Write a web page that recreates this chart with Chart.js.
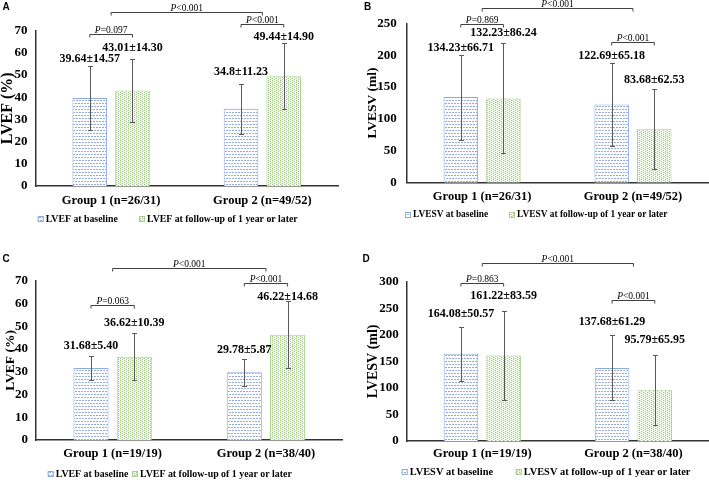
<!DOCTYPE html>
<html>
<head>
<meta charset="utf-8">
<script src="https://cdn.jsdelivr.net/npm/chart.js@4.4.1/dist/chart.umd.min.js"></script>
<style>
  html, body { margin: 0; padding: 0; background: #fff; }
  #fig { position: relative; width: 709px; height: 480px; overflow: hidden; }
  #fig canvas { position: absolute; }
</style>
</head>
<body>
<div id="fig">
  <canvas id="panelA" width="355" height="240" style="left:0;top:0"></canvas>
  <canvas id="panelB" width="354" height="240" style="left:355px;top:0"></canvas>
  <canvas id="panelC" width="355" height="240" style="left:0;top:240px"></canvas>
  <canvas id="panelD" width="354" height="240" style="left:355px;top:240px"></canvas>
</div>
<script>
// categories
const groupsAB = ['Group 1 (n=26/31)', 'Group 2 (n=49/52)'];
const groupsCD = ['Group 1 (n=19/19)', 'Group 2 (n=38/40)'];
const seriesEF = ['LVEF at baseline', 'LVEF at follow-up of 1 year or later'];
const seriesESV = ['LVESV at baseline', 'LVESV at follow-up of 1 year or later'];

// A - LVEF
const baseA = [39.64, 34.8];
const baseSdA = [14.57, 11.23];
const followA = [43.01, 49.44];
const followSdA = [14.30, 14.90];
const pA = ['P=0.097', 'P<0.001', 'P<0.001'];

// B - LVESV
const baseB = [134.23, 122.69];
const baseSdB = [66.71, 65.18];
const followB = [132.23, 83.68];
const followSdB = [86.24, 62.53];
const pB = ['P=0.869', 'P<0.001', 'P<0.001'];

// C - LVEF
const baseC = [31.68, 29.78];
const baseSdC = [5.40, 5.87];
const followC = [36.62, 46.22];
const followSdC = [10.39, 14.68];
const pC = ['P=0.063', 'P<0.001', 'P<0.001'];

// D - LVESV
const baseD = [164.08, 137.68];
const baseSdD = [50.57, 61.29];
const followD = [161.22, 95.79];
const followSdD = [83.59, 65.95];
const pD = ['P=0.863', 'P<0.001', 'P<0.001'];

// y ticks
const ticksEF = { max: 70, step: 10 };
const ticksESV_B = { max: 250, step: 50 };
const ticksESV_D = { max: 300, step: 50 };

const SERIF = '"Liberation Serif", "Times New Roman", serif';
Chart.defaults.font.family = SERIF;
Chart.defaults.color = '#000';

// fill patterns like the excel textures
function makePattern(kind) {
    const c = document.createElement('canvas');
    const g = c.getContext('2d');
    if (kind === 'blue') {
        c.width = 6; c.height = 6;
        g.fillStyle = '#fff'; g.fillRect(0, 0, 6, 6);
        g.fillStyle = '#93acdb';
        g.fillRect(0, 1, 2, 1); g.fillRect(3, 1, 2, 1);
        g.fillRect(1, 4, 2, 1); g.fillRect(4, 4, 2, 1);
    } else {
        c.width = 4; c.height = 4;
        g.fillStyle = '#fff'; g.fillRect(0, 0, 4, 4);
        g.fillStyle = '#94c676';
        g.fillRect(0, 0, 1, 1); g.fillRect(0, 2, 1, 1);
        g.fillRect(2, 1, 1, 1); g.fillRect(2, 3, 1, 1);
        g.fillStyle = '#d3e9c4';
        g.fillRect(1, 0, 1, 1); g.fillRect(3, 2, 1, 1);
    }
    return g.createPattern(c, 'repeat');
}
const patBlue = makePattern('blue');
const patGreen = makePattern('green');
const borderBlue = '#8eaadb';
const borderGreen = '#a9d18e';

// error bars, value labels, p-value brackets, legend
function decorPlugin(p, lay) {
    return {
        id: 'decor' + p.letter,
        afterDatasetsDraw(chart) {
            const ctx = chart.ctx;
            const ys = chart.scales.y;
            const xs = chart.scales.x;
            const metas = [chart.getDatasetMeta(0), chart.getDatasetMeta(1)];
            const sds = [p.baseSd, p.followSd];
            ctx.save();

            // error bars
            ctx.strokeStyle = '#595959';
            ctx.lineWidth = 1;
            sds.forEach((sdArr, d) => {
                sdArr.forEach((sd, i) => {
                    const m = chart.data.datasets[d].data[i];
                    const x = Math.round(metas[d].data[i].x) + 0.5;
                    const top = Math.round(ys.getPixelForValue(m + sd)) + 0.5;
                    const bot = Math.round(ys.getPixelForValue(m - sd)) + 0.5;
                    ctx.beginPath();
                    ctx.moveTo(x, top); ctx.lineTo(x, bot);
                    ctx.moveTo(x - 2.5, top); ctx.lineTo(x + 2.5, top);
                    ctx.moveTo(x - 2.5, bot); ctx.lineTo(x + 2.5, bot);
                    ctx.stroke();
                });
            });

            // mean ± sd labels
            ctx.fillStyle = '#000';
            ctx.font = 'bold ' + lay.valueSize + 'px ' + SERIF;
            ctx.textAlign = 'center';
            ctx.textBaseline = 'middle';
            sds.forEach((sdArr, d) => {
                sdArr.forEach((sd, i) => {
                    const m = chart.data.datasets[d].data[i];
                    const txt = String(m) + '\u00b1' + sd.toFixed(2);
                    ctx.fillText(txt, metas[d].data[i].x, ys.getPixelForValue(lay.labelAt[d][i]));
                });
            });

            // brackets
            const spans = [
                [metas[0].data[0].x, metas[1].data[0].x],
                [metas[0].data[1].x, metas[1].data[1].x],
                [xs.getPixelForValue(0), xs.getPixelForValue(1)]
            ];
            ctx.strokeStyle = '#404040';
            spans.forEach(([x0, x1], k) => {
                const yy = Math.round(ys.getPixelForValue(lay.bracketAt[k])) + 0.5;
                ctx.beginPath();
                ctx.moveTo(x0, yy + 3); ctx.lineTo(x0, yy);
                ctx.lineTo(x1, yy); ctx.lineTo(x1, yy + 3);
                ctx.stroke();
                // P label: italic P then the rest
                const label = p.pvals[k];
                const head = label.charAt(0), rest = label.slice(1);
                const fItal = 'italic ' + lay.pSize + 'px ' + SERIF;
                const fReg = lay.pSize + 'px ' + SERIF;
                ctx.font = fItal; const w0 = ctx.measureText(head).width;
                ctx.font = fReg; const w1 = ctx.measureText(rest).width;
                const sx = (x0 + x1) / 2 - (w0 + w1) / 2;
                ctx.textAlign = 'left';
                ctx.textBaseline = 'alphabetic';
                ctx.font = fItal; ctx.fillText(head, sx, yy - 2);
                ctx.font = fReg; ctx.fillText(rest, sx + w0, yy - 2);
            });

            // legend
            const fills = [patBlue, patGreen];
            const borders = [borderBlue, borderGreen];
            ctx.font = 'bold ' + lay.legendSize + 'px ' + SERIF;
            ctx.textBaseline = 'middle';
            ctx.textAlign = 'left';
            chart.data.datasets.forEach((ds, d) => {
                const bx = lay.legendX[d], by = lay.legendY;
                ctx.fillStyle = fills[d];
                ctx.fillRect(bx, by - 3, 6, 6);
                ctx.strokeStyle = borders[d];
                ctx.strokeRect(bx + 0.5, by - 2.5, 5, 5);
                ctx.fillStyle = '#000';
                ctx.fillText(ds.label, bx + 8, by);
            });

            // panel letter
            ctx.font = 'bold 10px "Liberation Sans", Arial, sans-serif';
            ctx.textAlign = 'center';
            ctx.fillText(p.letter, lay.letterXY[0], lay.letterXY[1]);
            ctx.restore();
        }
    };
}

function buildChart(p, lay) {
    const canvas = document.getElementById('panel' + p.letter);
    return new Chart(canvas, {
        type: 'bar',
        data: {
            labels: p.cats,
            datasets: [
                { label: p.names[0], data: p.base, backgroundColor: patBlue, borderColor: borderBlue, borderWidth: 1 },
                { label: p.names[1], data: p.follow, backgroundColor: patGreen, borderColor: borderGreen, borderWidth: 1 }
            ]
        },
        options: {
            responsive: false,
            animation: false,
            devicePixelRatio: 1,
            categoryPercentage: 0.565,
            barPercentage: 0.81,
            layout: { padding: { top: lay.top, right: lay.padRight, left: 0, bottom: 0 } },
            plugins: { legend: { display: false }, tooltip: { enabled: false } },
            scales: {
                x: {
                    grid: { display: false, drawTicks: false },
                    border: { color: '#333', width: 1.5 },
                    ticks: { font: { size: 12.5, weight: 'bold' }, padding: lay.catPad, color: '#000' },
                    afterFit: s => { s.height = lay.xAxisH; }
                },
                y: {
                    min: 0,
                    max: p.yTicks.max,
                    grid: { display: false, drawTicks: false },
                    border: { color: '#333', width: 1.5 },
                    ticks: { stepSize: p.yTicks.step, font: { size: 13, weight: 'bold' }, padding: lay.tickPad, color: '#000' },
                    title: {
                        display: true,
                        text: p.yTitle,
                        font: { size: lay.titleSize, weight: 'bold' },
                        padding: { top: lay.titlePad, bottom: 0 },
                        color: '#000'
                    },
                    afterFit: s => { s.width = lay.left; }
                }
            }
        },
        plugins: [decorPlugin(p, lay)]
    });
}

buildChart(
    { letter: 'A', cats: groupsAB, names: seriesEF, base: baseA, baseSd: baseSdA, follow: followA, followSd: followSdA, pvals: pA, yTicks: ticksEF, yTitle: 'LVEF (%)' },
    { left: 35.5, padRight: 17, top: 30.7, xAxisH: 54, titleSize: 16, titlePad: -2, tickPad: 8, catPad: 7.2,
      valueSize: 12, pSize: 9.5, legendY: 219, legendX: [37.7, 139], legendSize: 9.8, letterXY: [6, 7],
      labelAt: [[57.2, 51.4], [62.2, 67.2]], bracketAt: [68.4, 73, 78.6] }
);
buildChart(
    { letter: 'B', cats: groupsAB, names: seriesESV, base: baseB, baseSd: baseSdB, follow: followB, followSd: followSdB, pvals: pB, yTicks: ticksESV_B, yTitle: 'LVESV (ml)' },
    { left: 51.7, padRight: 0.6, top: 23.3, xAxisH: 57.3, titleSize: 13.5, titlePad: 9, tickPad: 10, catPad: 6.8,
      valueSize: 12, pSize: 9.5, legendY: 215, legendX: [50, 154], legendSize: 9.4, letterXY: [12.5, 7],
      labelAt: [[211.7, 198.7], [234.3, 161]], bracketAt: [249, 220, 273.5] }
);
buildChart(
    { letter: 'C', cats: groupsCD, names: seriesEF, base: baseC, baseSd: baseSdC, follow: followC, followSd: followSdC, pvals: pC, yTicks: ticksEF, yTitle: 'LVEF (%)' },
    { left: 36, padRight: 12.4, top: 40.7, xAxisH: 40, titleSize: 13.5, titlePad: 2, tickPad: 8, catPad: 6.5,
      valueSize: 12, pSize: 9.5, legendY: 234, legendX: [47.7, 132], legendSize: 9.9, letterXY: [6, 19.7],
      labelAt: [[41.3, 39.5], [51.3, 63.0]], bracketAt: [59.3, 69.1, 75.7] }
);
buildChart(
    { letter: 'D', cats: groupsCD, names: seriesESV, base: baseD, baseSd: baseSdD, follow: followD, followSd: followSdD, pvals: pD, yTicks: ticksESV_D, yTitle: 'LVESV (ml)' },
    { left: 51.7, padRight: 0, top: 41.7, xAxisH: 39, titleSize: 14, titlePad: 10, tickPad: 8, catPad: 4.8,
      valueSize: 12, pSize: 9.5, legendY: 232, legendX: [46.7, 160.7], legendSize: 10.4, letterXY: [11, 19],
      labelAt: [[239.2, 223.5], [273, 190]], bracketAt: [298, 265.5, 336] }
);
</script>
</body>
</html>
